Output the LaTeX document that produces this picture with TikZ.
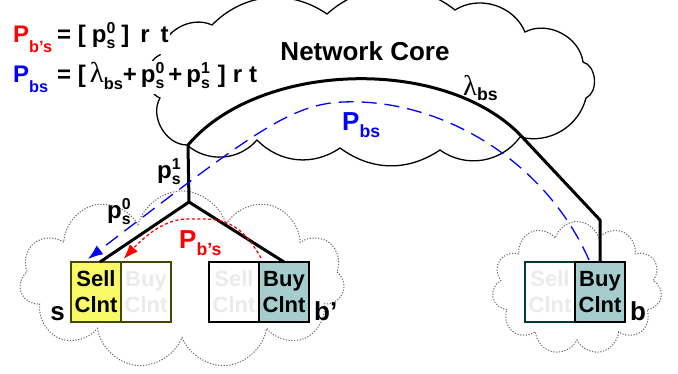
\documentclass[tikz,border=0pt]{standalone}
\usepackage{fontspec}
\setmainfont{Liberation Sans}
\newfontfamily\greekfont{Liberation Serif}
\usepackage{graphicx}
\usepackage{xcolor}
\usetikzlibrary{shapes.symbols, arrows.meta, positioning, calc}
\definecolor{sellyellow}{RGB}{250, 250, 105}
\definecolor{buyteal}{RGB}{165, 205, 205}
\definecolor{fadedtext}{RGB}{235, 235, 235}
\definecolor{olivedge}{RGB}{70, 70, 0}
\definecolor{tealedge}{RGB}{0, 55, 55}
\definecolor{costred}{RGB}{255, 0, 0}
\definecolor{costblue}{RGB}{0, 0, 255}

\newcommand{\lowidx}[2][.45em]{\raisebox{-#1}{\scalebox{.68}{#2}}}
\newcommand{\idx}[2]{\rlap{\raisebox{.36em}{\scalebox{.66}{#1}}}\raisebox{-.28em}{\scalebox{.66}{#2}}}
\newcommand{\lam}[1][1]{{\greekfont\mdseries\scalebox{#1}{λ}}}
\newcommand{\costname}[1]{\makebox[44pt][l]{#1}}

\begin{document}
\begin{tikzpicture}[
  x=1pt, y=-1pt,
  lbl/.style={font=\fontsize{26}{30}\selectfont\bfseries, inner sep=0pt},
  eqfont/.style={font=\fontsize{24}{28}\selectfont\bfseries, inner sep=0pt},
  clntbox/.style={rectangle, minimum width=50pt, minimum height=60pt, inner sep=0pt,
                  outer sep=0pt, align=center, line width=1.2pt,
                  font=\fontsize{22}{26}\selectfont\bfseries},
  sellon/.style={clntbox, fill=sellyellow, draw=olivedge},
  fadebox/.style={clntbox, fill=white, text=fadedtext},
  buyon/.style={clntbox, fill=buyteal},
  corecloud/.style={draw, line width=1.3pt},
  sitecloud/.style={cloud, cloud puffs=11, draw=gray!80!black, line width=1pt,
                    dash pattern=on 1.2pt off 1.6pt},
  link/.style={line width=3pt, line join=round},
  bsflow/.style={costblue, line width=1.3pt, dash pattern=on 15pt off 8pt,
                 -{Latex[length=15pt, width=11pt]}},
  bpsflow/.style={costred, line width=1.3pt, dash pattern=on 3pt off 2.5pt,
                  -{Latex[length=15pt, width=11pt]}}
]
\useasboundingbox (0,0) rectangle (678,373);

% Clouds
\draw[corecloud] (160,98) to[bend left=70] (160,55) to[bend left=55] (212,25)
  to[bend left=40] (327,14) to[bend left=40] (455,10) to[bend left=50] (525,32)
  to[bend left=55] (583,62) to[bend left=70] (586,98) to[bend left=45] (520,137)
  to[bend left=45] (440,150) to[bend left=35] (340,148) to[bend left=40] (257,140)
  to[bend left=45] (187,145) to[bend left=60] cycle;
\node[sitecloud, aspect=1.8, minimum width=325pt, minimum height=178pt] (sCloud) at (182,280) {};
\node[sitecloud, aspect=1.3, minimum width=170pt, minimum height=133pt] (bCloud) at (577,288) {};

% Client boxes
\node[sellon] (sSell) at (96,292) {Sell\\Clnt};
\node[fadebox, draw=olivedge, right=0pt of sSell] (sBuy) {Buy\\Clnt};
\node[fadebox, draw=black] (bpSell) at (234,292) {Sell\\Clnt};
\node[buyon, draw=black, right=0pt of bpSell] (bpBuy) {Buy\\Clnt};
\node[fadebox, draw=tealedge] (bSell) at (550,292) {Sell\\Clnt};
\node[buyon, draw=black, right=0pt of bSell] (bBuy) {Buy\\Clnt};

% Site names
\node[lbl, anchor=base east] (sLbl) at ([xshift=-6pt, yshift=2pt]sSell.south west) {s};
\node[lbl, anchor=base west] (bpLbl) at ([xshift=5pt, yshift=2pt]bpBuy.south east) {b’};
\node[lbl, anchor=base west] (bLbl) at ([xshift=5pt, yshift=2pt]bBuy.south east) {b};

% Routing tree
\coordinate (fork) at (189,202);
\coordinate (rise) at (188,145);
\coordinate (knee) at ($(bBuy.north)+(0,-42)$);
\draw[link] ([xshift=4pt]sSell.north) -- (fork) -- (bpBuy.north);
\draw[link] (fork) -- (rise) .. controls (260,60) and (450,55) .. (525,140) -- (knee) -- (bBuy.north);

% Flows
\draw[bsflow] ([xshift=-11pt, yshift=2pt]bBuy.north) .. controls (545,160) and (440,98) .. (343,102)
  .. controls (290,104) and (250,135) .. ([xshift=-8pt, yshift=3pt]sSell.north);
\draw[bpsflow] ([xshift=2pt, yshift=4pt]bpBuy.north west) .. controls (237,215) and (215,219) .. (187,219)
  .. controls (165,219) and (145,236) .. ([xshift=2.5pt, yshift=3pt]sBuy.north west);

% Labels
\node[lbl, anchor=base] (coreLbl) at (365,60) {Network Core};
\node[lbl, anchor=base west, text=costblue] (bsLbl) at (342,130) {P\lowidx[.28em]{bs}};
\node[lbl, anchor=base west, text=costred] (bpsLbl) at (179,248) {P\lowidx[.3em]{b’s}};
\node[lbl, anchor=base west] (lamLbl) at (463,95) {\lam[1.1]\lowidx[.2em]{bs}};
\node[eqfont, anchor=base west] (p1Lbl) at (157,178) {p\idx{1}{s}};
\node[eqfont, anchor=base west] (p0Lbl) at (107,218) {p\idx{0}{s}};

% Cost formulas
\node[eqfont, anchor=base west, fill=white, inner sep=1pt] (eqBps) at (12,42)
  {\costname{\textcolor{costred}{P\lowidx{b’s}}}= [\hspace{6pt}p\idx{0}{s}\hspace{6pt}]\hspace{11pt}r\hspace{11pt}t};
\node[eqfont, anchor=base west, fill=white, inner sep=1pt] (eqBs) at (12,82)
  {\costname{\textcolor{costblue}{P\lowidx{bs}}}= [\,\lam[1.2]\lowidx[.3em]{bs}+\,p\idx{0}{s}\,+\,p\idx{1}{s}\,\,]\hspace{7pt}r\hspace{7pt}t};

\end{tikzpicture}
\end{document}
